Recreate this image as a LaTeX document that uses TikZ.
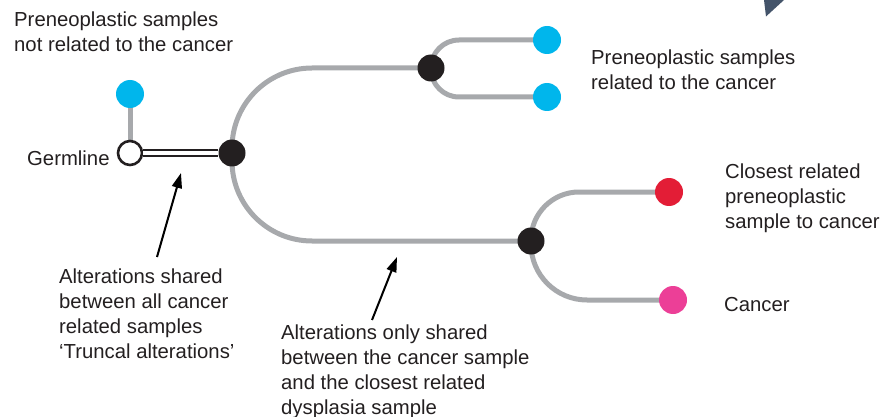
\documentclass[tikz,border=0pt]{standalone}
\usepackage{fontspec}
\setmainfont{Liberation Sans}
\usetikzlibrary{arrows.meta,backgrounds}
\definecolor{branch}{HTML}{A7A9AC}
\definecolor{dotblack}{HTML}{231F20}
\definecolor{sampleblue}{HTML}{00B6EC}
\definecolor{samplered}{HTML}{E31D36}
\definecolor{samplepink}{HTML}{EC3F97}
\definecolor{markslate}{HTML}{44546A}
\definecolor{labeltext}{HTML}{231F20}
\begin{document}
\begin{tikzpicture}[x=1pt,y=-1pt,
  dot/.style={circle,inner sep=0pt,minimum size=27pt},
  nodedot/.style={dot,fill=dotblack},
  bluedot/.style={dot,fill=sampleblue,minimum size=28pt},
  reddot/.style={dot,fill=samplered,minimum size=28pt},
  pinkdot/.style={dot,fill=samplepink,minimum size=28pt},
  germdot/.style={circle,inner sep=0pt,minimum size=24pt,draw=dotblack,line width=2.6pt,fill=white},
  limb/.style={draw=branch,line width=5pt},
  trunk/.style={draw=dotblack,line width=1.8pt,double=white,double distance=4.5pt},
  pointer/.style={draw=black,line width=2pt,-{Triangle[length=15pt,width=10pt]}},
  % multi-line labels are placed by the baseline of their last line
  lbl/.style={inner sep=0pt,anchor=base west,align=left,text=labeltext,
    font=\fontsize{20.3}{25}\selectfont}
]
\useasboundingbox (0,0) rectangle (881,417);

% corner marker
\fill[markslate] (764,0) -- (784,0) -- (766,16.5) -- cycle;

% samples and branch points
\node[bluedot]  (nonrel) at (130,94) {};
\node[germdot]  (germ)   at (130,153) {};
\node[nodedot]  (root)   at (232,153) {};
\node[nodedot]  (upper)  at (431,68) {};
\node[bluedot]  (rel1)   at (547,40) {};
\node[bluedot]  (rel2)   at (547,97) {};
\node[nodedot]  (lower)  at (531,241) {};
\node[reddot]   (closest) at (669,192) {};
\node[pinkdot]  (cancer) at (673,300) {};

% tree branches
\begin{scope}[on background layer]
  \draw[limb] (nonrel.center) -- (germ.center);
  \draw[limb,rounded corners=80pt] (root.center) |- (upper.center);
  \draw[limb,rounded corners=80pt] (root.center) |- (lower.center);
  \draw[limb,rounded corners=28pt] (upper.center) |- (rel1.center);
  \draw[limb,rounded corners=28pt] (upper.center) |- (rel2.center);
  \draw[limb,rounded corners=48pt] (lower.center) |- (closest.center);
  \draw[limb,rounded corners=56pt] (lower.center) |- (cancer.center);
\end{scope}
\draw[trunk] (germ) -- (root);

% labels
\node[lbl] (lnonrel) at (14,52) {Preneoplastic samples\\not related to the cancer};
\node[lbl] (lgerm) at (27,165) {Germline};
\node[lbl] (lrel) at (591,90) {Preneoplastic samples\\related to the cancer};
\node[lbl] (lclosest) at (725,228.5) {Closest related\\preneoplastic\\sample to cancer};
\node[lbl] (lcancer) at (724,311) {Cancer};
\node[lbl] (ltrunc) at (59,358) {Alterations shared\\between all cancer\\related samples\\‘Truncal alterations’};
\node[lbl] (lshared) at (281,414) {Alterations only shared\\between the cancer sample\\and the closest related\\dysplasia sample};

% pointers to the annotated branches
\coordinate (ptrunctail) at (157,257);
\coordinate (ptrunctip) at (181,173);
\coordinate (psharedtail) at (372,320);
\coordinate (psharedtip) at (397,257);
\draw[pointer] (ptrunctail) -- (ptrunctip);
\draw[pointer] (psharedtail) -- (psharedtip);
\end{tikzpicture}
\end{document}
